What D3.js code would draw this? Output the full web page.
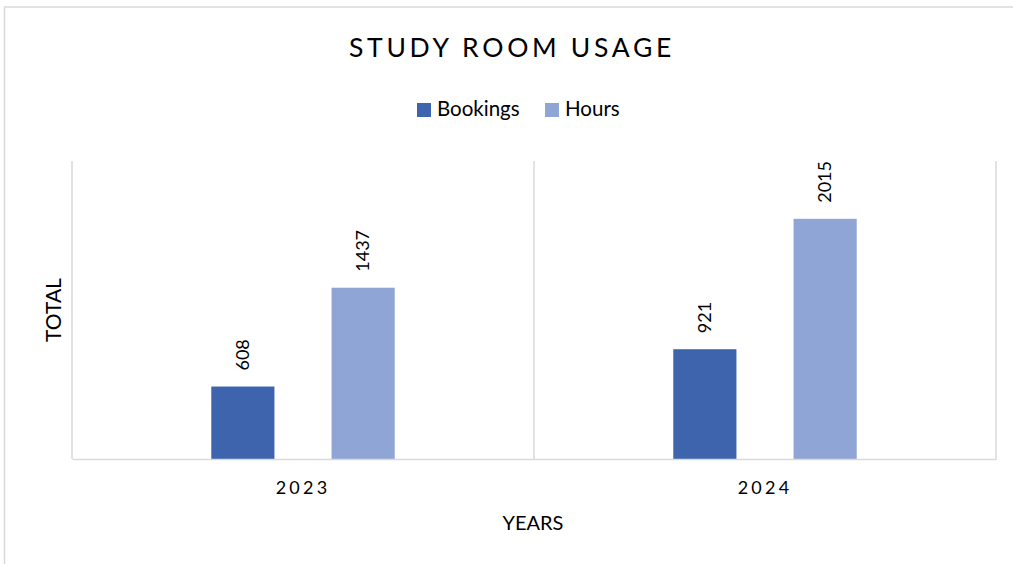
<!DOCTYPE html>
<html>
<head>
<meta charset="utf-8">
<script src="https://cdn.jsdelivr.net/npm/d3@7"></script>
<style>
  html, body { margin: 0; padding: 0; background: #fff; }
  svg { display: block; }
  text { font-family: Lato, "Open Sans", sans-serif; fill: #000; }
</style>
</head>
<body>
<svg id="chart" width="1013" height="564"></svg>
<script>
const years = ["2023", "2024"];
const seriesNames = ["Bookings", "Hours"];
const bookings = [608, 921];
const hours = [1437, 2015];
const seriesColors = ["#3d64ad", "#8fa5d5"];
const chartTitle = "STUDY ROOM USAGE";
const xTitle = "YEARS";
const yTitle = "TOTAL";

const svg = d3.select("#chart");
const W = 1013, H = 564;
const plot = { left: 72, right: 996, top: 161, bottom: 459 };

// outer chart border
svg.append("rect")
  .attr("x", 4.5).attr("y", 7)
  .attr("width", W + 10).attr("height", H + 10)
  .attr("fill", "none").attr("stroke", "#d9d9d9").attr("stroke-width", 1.5);

const x0 = d3.scaleBand().domain(years).range([plot.left, plot.right]).padding(0);
const x1 = d3.scaleBand().domain(seriesNames).range([0, x0.bandwidth()])
  .paddingInner(0.475).paddingOuter(1.158);
const y = d3.scaleLinear().domain([0, 2500]).range([plot.bottom, plot.top]);

// vertical separators at band boundaries
const bounds = years.map(d => x0(d)).concat([x0(years[years.length - 1]) + x0.bandwidth()]);
svg.append("g").selectAll("line").data(bounds).join("line")
  .attr("x1", d => d).attr("x2", d => d)
  .attr("y1", plot.top).attr("y2", plot.bottom)
  .attr("stroke", "#d9d9d9").attr("stroke-width", 1.5);

const data = years.map((yr, i) => ({ year: yr, values: [
  { key: seriesNames[0], value: bookings[i], color: seriesColors[0] },
  { key: seriesNames[1], value: hours[i], color: seriesColors[1] }
]}));

const groups = svg.append("g").selectAll("g").data(data).join("g")
  .attr("transform", d => `translate(${x0(d.year)},0)`);

groups.selectAll("rect").data(d => d.values).join("rect")
  .attr("x", d => x1(d.key))
  .attr("width", x1.bandwidth())
  .attr("y", d => y(d.value))
  .attr("height", d => y(0) - y(d.value))
  .attr("fill", d => d.color);

groups.selectAll("text.lbl").data(d => d.values).join("text")
  .attr("class", "lbl")
  .attr("transform", d => `translate(${x1(d.key) + x1.bandwidth() / 2},${y(d.value) - 16}) rotate(-90)`)
  .attr("text-anchor", "start")
  .attr("dy", "0.35em")
  .style("font-size", "18px")
  .text(d => d.value);

// baseline axis
const xAxis = d3.axisBottom(x0).tickSize(0).tickPadding(0);
const gx = svg.append("g").attr("transform", `translate(0,${plot.bottom})`).call(xAxis);
gx.select(".domain").attr("stroke", "#d9d9d9").attr("stroke-width", 1.5);
gx.selectAll(".tick text")
  .attr("y", 35)
  .attr("dy", 0)
  .style("font-family", "Lato, sans-serif")
  .style("font-size", "18px")
  .style("letter-spacing", "3.2px")
  .attr("fill", "#000");

// title
svg.append("text")
  .attr("x", 512).attr("y", 57)
  .attr("text-anchor", "middle")
  .style("font-size", "26.5px")
  .style("letter-spacing", "3.7px")
  .text(chartTitle);

// legend
const legend = svg.append("g");
const legendX = [417, 545];
seriesNames.forEach((s, i) => {
  legend.append("rect").attr("x", legendX[i]).attr("y", 103).attr("width", 14).attr("height", 14)
    .attr("fill", seriesColors[i]);
  legend.append("text").attr("x", legendX[i] + 20).attr("y", 116)
    .style("font-size", "20.5px").text(s);
});

// axis titles
svg.append("text")
  .attr("x", 533).attr("y", 530)
  .attr("text-anchor", "middle")
  .style("font-size", "20px")
  .text(xTitle);

svg.append("text")
  .attr("transform", "translate(61,310) rotate(-90)")
  .attr("text-anchor", "middle")
  .style("font-size", "21px")
  .text(yTitle);
</script>
</body>
</html>
